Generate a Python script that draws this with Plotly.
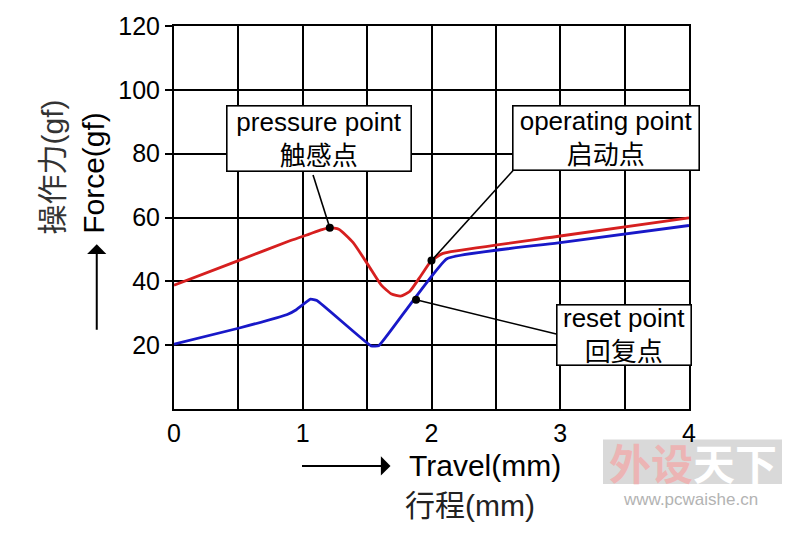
import plotly.graph_objects as go

# ---- data ----
travel_press = [0, 0.5, 0.9, 1.05, 1.15, 1.21, 1.28, 1.39, 1.51, 1.61, 1.69, 1.76, 1.83, 1.92, 2.0, 2.08, 2.15, 3.0, 4.0]
force_press = [38.8, 46.5, 52.7, 54.8, 56.2, 56.8, 56.3, 52.2, 45.0, 38.8, 36.0, 35.4, 36.8, 41.9, 46.5, 48.6, 49.3, 54.2, 59.9]

travel_reset = [0, 0.5, 0.88, 0.95, 1.06, 1.11, 1.53, 1.59, 2.12, 3.0, 4.0]
force_reset = [20.3, 25.3, 29.6, 31.1, 34.4, 34.0, 19.8, 19.8, 47.1, 52.1, 57.5]

callout_names = ["pressure point<br>触感点", "operating point<br>启动点", "reset point<br>回复点"]
callout_x = [1.21, 2.0, 1.88]
callout_y = [56.8, 46.5, 34.2]

x_tickvals = [0, 0.5, 1, 1.5, 2, 2.5, 3, 3.5, 4]
x_ticktext = ["0", "", "1", "", "2", "", "3", "", "4"]
y_tickvals = [20, 40, 60, 80, 100, 120]
y_ticktext = ["20", "40", "60", "80", "100", "120"]

FONT = "Liberation Sans, Arial, Noto Sans CJK SC, sans-serif"

fig = go.Figure()
fig.add_trace(go.Scatter(x=travel_press, y=force_press, mode="lines",
                         line=dict(color="#d61f1f", width=2.8, shape="spline", smoothing=0.5),
                         showlegend=False, hoverinfo="skip"))
fig.add_trace(go.Scatter(x=travel_reset, y=force_reset, mode="lines",
                         line=dict(color="#1818c8", width=2.8, shape="spline", smoothing=0.3),
                         showlegend=False, hoverinfo="skip"))
fig.add_trace(go.Scatter(x=callout_x, y=callout_y, mode="markers",
                         marker=dict(color="black", size=8),
                         showlegend=False, hoverinfo="skip"))

# leader lines from callout boxes to points
box_anchor = [(1.080, 73.3), (2.635, 74.8), (2.977, 23.4)]
for (bx, by), px, py in zip(box_anchor, callout_x, callout_y):
    fig.add_shape(type="line", x0=bx, y0=by, x1=px, y1=py, xref="x", yref="y",
                  line=dict(color="black", width=1.6), layer="above")

# callout boxes
box_pos = [(1.128, 84.9, 181, 62), (3.355, 85.0, 183, 61), (3.497, 23.2, 131, 57)]
for txt, (cx, cy, w, h) in zip(callout_names, box_pos):
    fig.add_annotation(x=cx, y=cy, xref="x", yref="y", text=txt, showarrow=False,
                       font=dict(family=FONT, size=26, color="black"),
                       bgcolor="white", bordercolor="black", borderwidth=1.6,
                       borderpad=1, width=w, height=h, align="center", valign="middle")

# axis titles (paper coords)
fig.add_annotation(x=0.4204, y=-0.1485, xref="paper", yref="paper", text="",
                   showarrow=True, ax=-90, ay=0, arrowhead=1, arrowsize=1.6,
                   arrowwidth=2, arrowcolor="black")
fig.add_annotation(x=0.452, y=-0.1485, xref="paper", yref="paper", text="Travel(mm)",
                   showarrow=False, xanchor="left", yanchor="middle",
                   font=dict(family=FONT, size=30, color="black"))
fig.add_annotation(x=0.574, y=-0.252, xref="paper", yref="paper", text="行程(mm)",
                   showarrow=False, xanchor="center", yanchor="middle",
                   font=dict(family=FONT, size=30, color="#222"))

fig.add_annotation(x=-0.150, y=0.4300, xref="paper", yref="paper", text="",
                   showarrow=True, ax=0, ay=87, arrowhead=1, arrowsize=1.6,
                   arrowwidth=2, arrowcolor="black")
fig.add_annotation(x=-0.155, y=0.617, xref="paper", yref="paper", text="Force(gf)",
                   showarrow=False, textangle=-90, xanchor="center", yanchor="middle",
                   font=dict(family=FONT, size=30, color="black"))
fig.add_annotation(x=-0.235, y=0.633, xref="paper", yref="paper", text="操作力(gf)",
                   showarrow=False, textangle=-90, xanchor="center", yanchor="middle",
                   font=dict(family=FONT, size=30, color="#333"))

# watermark
fig.add_shape(type="rect", xref="paper", yref="paper", x0=0.833, x1=1.1806,
              y0=-0.1955, y1=-0.0796, fillcolor="#d9d9d9", line=dict(width=0), layer="below")
fig.add_annotation(x=1.007, y=-0.137, xref="paper", yref="paper",
                   text="<b><span style='color:#ecb4b4'>外设</span><span style='color:#ffffff'>天下</span></b>",
                   showarrow=False, xanchor="center", yanchor="middle",
                   font=dict(family="Noto Sans CJK SC", size=42))
fig.add_annotation(x=1.002, y=-0.236, xref="paper", yref="paper", text="www.pcwaishe.cn",
                   showarrow=False, xanchor="center", yanchor="middle",
                   font=dict(family=FONT, size=17, color="#b3b3b3"))

axis_common = dict(showline=True, linecolor="black", linewidth=2, mirror=True,
                   showgrid=True, gridcolor="black", gridwidth=2, zeroline=False,
                   tickfont=dict(family=FONT, size=25, color="black"))
fig.update_xaxes(range=[0, 4], tickvals=x_tickvals, ticktext=x_ticktext,
                 ticks="outside", ticklen=1, tickcolor="rgba(0,0,0,0)", **axis_common)
fig.update_yaxes(range=[0, 120], tickvals=y_tickvals, ticktext=y_ticktext,
                 ticks="outside", ticklen=7, tickwidth=2, tickcolor="black", **axis_common)

fig.update_layout(width=800, height=533, margin=dict(l=174, r=111, t=20, b=124),
                  plot_bgcolor="white", paper_bgcolor="white")

fig.write_html("out.html")
